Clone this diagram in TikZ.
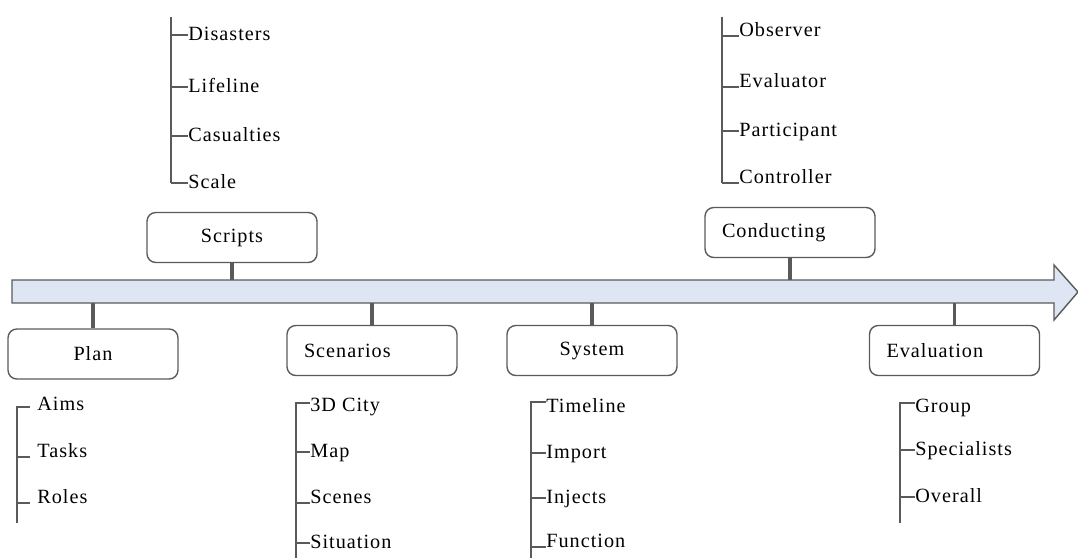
\documentclass[tikz,border=0pt]{standalone}
\usepackage{fontspec}
\setmainfont{Liberation Serif}[LetterSpace=5.0]
\usetikzlibrary{positioning,calc}
\definecolor{axisblue}{RGB}{221,230,242}
\definecolor{edgegray}{RGB}{90,90,90}

\tikzset{
  stage/.style={draw=edgegray, line width=0.8pt, rounded corners=5pt,
    text width=2.72cm, inner xsep=0.34cm, minimum height=1cm, align=center,
    font=\fontsize{11.5}{14}\selectfont},
  flushleft/.style={align=left},
  stem/.style={line width=1.8pt, edgegray},
  rail/.style={line width=0.8pt, edgegray},
  item/.style={anchor=west, inner sep=0pt, text height=1.5ex, text depth=0.25ex,
    font=\fontsize{11.5}{14}\selectfont}
}

\begin{document}
\begin{tikzpicture}[x=0.02cm,y=-0.02cm]
  \useasboundingbox (0,0) rectangle (1078,558);
  % time axis
  \draw[edgegray, fill=axisblue, line width=0.8pt] (12,280) -- (1054,280) -- (1054,265)
    -- (1078,292) -- (1054,320) -- (1054,303) -- (12,303) -- cycle;
  \coordinate (axtop) at (0,280);
  \coordinate (axbot) at (0,303);

  % stages
  \node[stage] (scripts) at (232,237.5) {Scripts};
  \node[stage, flushleft] (conducting) at (790,232.5) {Conducting};
  \node[stage] (plan) at (93,354) {Plan};
  \node[stage, flushleft] (scenarios) at (372,350.5) {Scenarios};
  \node[stage] (system) at (592,350.5) {System};
  \node[stage, flushleft] (evaluation) at (954.5,350.5) {Evaluation};
  \foreach \n in {scripts,conducting}
    \draw[stem] (\n.south) -- (\n.south |- axtop);
  \foreach \n in {plan,scenarios,system,evaluation}
    \draw[stem] (\n.north) -- (\n.north |- axbot);

  % Scripts
  \coordinate (sc-top) at (171,17);
  \coordinate (sc-bot) at (171,183);
  \draw[rail] (sc-top) -- (sc-bot);
  \foreach \y/\a/\l [count=\i] in {35/west/Disasters,87/west/Lifeline,136/west/Casualties,183/west/Scale}{
    \node[item] (sc\i) at (188,\y) {\l};
    \draw[rail] (sc\i.\a -| sc-top) -- (sc\i.\a);
  }

  % Conducting
  \coordinate (co-top) at (722,17);
  \coordinate (co-bot) at (722,183);
  \draw[rail] (co-top) -- (co-bot);
  \foreach \y/\a/\l [count=\i] in {31/base west/Observer,82/base west/Evaluator,131/west/Participant,178/base west/Controller}{
    \node[item] (co\i) at (739,\y) {\l};
    \draw[rail] (co\i.\a -| co-top) -- (co\i.\a);
  }

  % Plan
  \coordinate (pl-top) at (17,407);
  \coordinate (pl-bot) at (17,523);
  \foreach \y/\l [count=\i] in {405/Aims,452/Tasks,498/Roles}
    \node[item] (pl\i) at (37,\y) {\l};
  \draw[rail] (pl-bot) -- (pl-top) -- ([xshift=-4pt]pl-top -| pl1.west);
  \foreach \i in {2,3}
    \draw[rail] (pl\i.base west -| pl-top) -- ([xshift=-4pt]pl\i.base west);

  % Scenarios
  \coordinate (sn-top) at (296,403);
  \coordinate (sn-bot) at (296,558);
  \foreach \y/\l [count=\i] in {406/3D City,452/Map,498/Scenes,543/Situation}
    \node[item] (sn\i) at (310,\y) {\l};
  \draw[rail] (sn-bot) -- (sn-top) -- (sn-top -| sn1.west);
  \foreach \i/\a in {2/west,3/base west,4/west}
    \draw[rail] (sn\i.\a -| sn-top) -- (sn\i.\a);

  % System
  \coordinate (sy-top) at (531,402);
  \coordinate (sy-bot) at (531,558);
  \foreach \y/\l [count=\i] in {407/Timeline,453/Import,498/Injects,542/Function}
    \node[item] (sy\i) at (546,\y) {\l};
  \draw[rail] (sy-bot) -- (sy-top) -- (sy-top -| sy1.west);
  \foreach \i/\a in {2/west,3/west,4/base west}
    \draw[rail] (sy\i.\a -| sy-top) -- (sy\i.\a);

  % Evaluation
  \coordinate (ev-top) at (900,403);
  \coordinate (ev-bot) at (900,523);
  \foreach \y/\l [count=\i] in {407/Group,450/Specialists,497/Overall}
    \node[item] (ev\i) at (915,\y) {\l};
  \draw[rail] (ev-bot) -- (ev-top) -- (ev-top -| ev1.west);
  \foreach \i in {2,3}
    \draw[rail] (ev\i.west -| ev-top) -- (ev\i.west);
\end{tikzpicture}
\end{document}
